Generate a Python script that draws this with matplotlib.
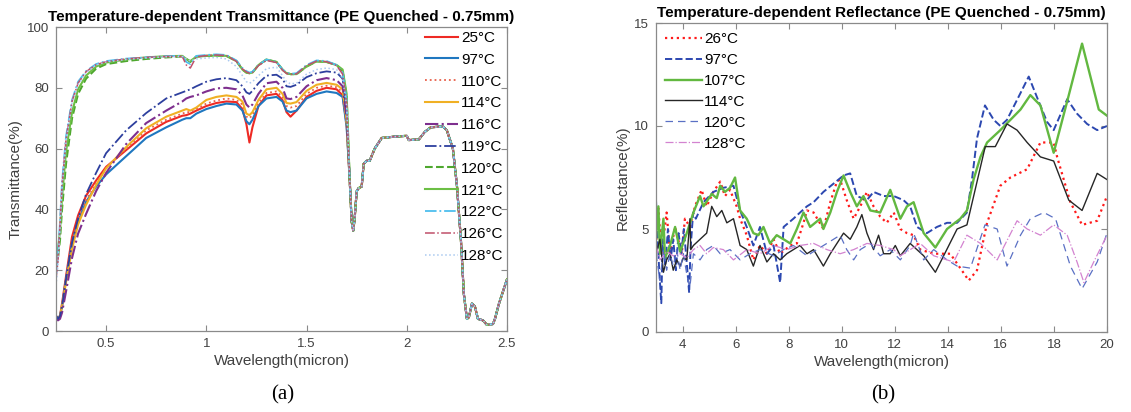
import numpy as np
import matplotlib
matplotlib.use("Agg")
import matplotlib.pyplot as plt

plt.rcParams['font.family'] = ['Liberation Sans', 'DejaVu Sans']

# ---------------- (a) transmittance data ----------------
wl = [0.25, 0.26, 0.27, 0.28, 0.30, 0.33, 0.36, 0.40, 0.45, 0.50, 0.60, 0.70, 0.80,
      0.88, 0.90, 0.92, 0.95, 1.00, 1.05, 1.10, 1.15, 1.18, 1.20, 1.215, 1.23, 1.26,
      1.30, 1.35, 1.38, 1.40, 1.42, 1.45, 1.50, 1.55, 1.60, 1.65, 1.68, 1.70]

# shared part beyond the 1.7 micron edge
wl_tail = [1.715, 1.725, 1.733, 1.74, 1.75, 1.76, 1.775, 1.785, 1.80, 1.815, 1.84, 1.875,
           1.95, 2.00, 2.01, 2.06, 2.09, 2.12, 2.18, 2.20, 2.23, 2.25, 2.27, 2.285, 2.30,
           2.31, 2.325, 2.34, 2.355, 2.38, 2.40, 2.43, 2.44, 2.46, 2.48, 2.50]
T_tail = [50, 36, 33, 37, 46, 47, 47.5, 55, 56, 56, 60, 63.5,
          64, 64.2, 62.8, 63, 65.5, 67, 67.3, 66, 60, 48, 30, 12, 4,
          4.5, 9, 8, 4, 3.5, 2, 2.3, 4, 9, 13, 17]

T_25 = [5, 4, 5, 9, 18, 31, 38, 44.5, 49.5, 54, 59.5, 65, 68.8, 70.8, 71, 71.5, 72.5, 74, 75,
        75.5, 75.3, 73, 68, 62, 67, 74, 77.5, 78, 76, 72, 70.5, 72.5, 77, 79, 80, 79.5, 77.5, 68]
T_97 = [5, 4, 5, 8, 17, 29, 36, 42.5, 47.5, 51.5, 57.5, 63.5, 67, 69.5, 70, 70, 71.5, 73, 74,
        74.8, 74.5, 72.5, 69, 68, 69.5, 74, 76.5, 77, 75.5, 72.5, 72, 72.5, 76.5, 78, 78.8, 78.3, 77, 67]
T_110 = [4.5, 4, 5, 8, 17, 29, 36.5, 43, 48.5, 53.5, 60, 66, 69.5, 71.5, 72, 72, 73, 74.8, 75.8,
         76.5, 76, 74.5, 70.5, 70, 71, 75, 78.3, 78.8, 77, 74, 73.5, 74, 78, 80, 80.7, 80.2, 78.5, 68]
T_114 = [4.5, 4, 5, 8, 16, 27, 35, 41.5, 48, 53.5, 60.5, 66.7, 70.5, 72.5, 73, 72.5, 73.5, 76, 77,
         77.5, 77, 75.5, 71.5, 71, 72, 76, 79.5, 80, 78, 75, 74.8, 75.3, 79, 81, 81.6, 81, 79.5, 69]
T_116 = [4, 3.5, 4, 6, 13, 24, 32, 38.5, 46, 52, 61.5, 68.4, 72.5, 75.5, 76.5, 77, 77.5, 78.8, 79.8,
         80, 79.5, 77.5, 74.5, 73.5, 74.5, 78, 81.5, 82, 80, 76.5, 76.3, 77, 80.5, 82.5, 83.2, 82.5, 80.5, 70]
T_119 = [5, 4, 5, 8, 17, 29, 37, 45, 52, 58.5, 66, 71.7, 76.5, 78.5, 79, 79.5, 80.5, 82, 82.8,
         83.2, 82.5, 80.5, 78.5, 78, 79, 81.5, 84, 84.3, 83, 80.5, 80.3, 81, 83.5, 84.8, 85.4, 85, 83, 72]
T_120 = [21, 24, 30, 40, 55, 70, 78, 83, 86.3, 87.8, 88.8, 89.5, 90, 90.3, 89.5, 88.5, 90.3, 90.5, 90.6,
         90.5, 88.8, 86, 85, 84.8, 85, 87.5, 89.3, 88.5, 86, 84.8, 84.5, 84.5, 87, 88.7, 88.5, 87.5, 85.5, 77]
T_121 = [24, 27, 33, 44, 59, 72, 79.5, 84, 87, 88.3, 89.3, 90, 90.4, 90.5, 89.5, 88.8, 90.2, 90.5, 90.6,
         90.5, 88.8, 86, 85, 84.8, 85, 87.5, 89.3, 88.5, 86, 84.8, 84.5, 84.5, 87, 88.7, 88.5, 87.5, 86, 78]
T_122 = [19, 25, 36, 49, 64, 76, 82, 85.5, 87.8, 88.8, 89.6, 90, 90.4, 90.5, 88.5, 87.8, 90.5, 90.8, 91,
         90.8, 89, 86.5, 85.5, 85, 85.3, 87.5, 89.3, 88.5, 86, 85, 84.6, 84.8, 87.5, 89, 88.8, 87.5, 85, 76]
T_126 = [17, 23, 35, 48, 63, 75.5, 81.5, 85.3, 87.6, 88.6, 89.5, 90, 90.3, 90.3, 87.5, 86.5, 90.2, 90.6, 90.8,
         90.6, 88.7, 86.2, 85.2, 84.8, 85, 87.3, 89, 88.3, 85.8, 84.7, 84.4, 84.6, 87.3, 88.8, 88.6, 87.3, 84.5, 75]
T_128 = [15, 22, 34, 47, 62, 75, 81, 85, 87.5, 88.5, 89.3, 89.8, 90.2, 90.3, 89.5, 88.8, 89.5, 89.8, 90,
         89.5, 87, 84, 82, 81.5, 82, 84, 86.3, 86.8, 84, 82, 81.3, 81.5, 84.5, 86, 86.5, 86, 83, 74]

trans_labels = ['25°C', '97°C', '110°C', '114°C', '116°C', '119°C',
                '120°C', '121°C', '122°C', '126°C', '128°C']
trans_series = [T_25, T_97, T_110, T_114, T_116, T_119, T_120, T_121, T_122, T_126, T_128]
trans_styles = [('#ee2a24', '-', 1.5), ('#1f77c0', '-', 1.5), ('#e8604a', ':', 1.3),
                ('#f0b024', '-', 1.5), ('#7e2f8e', '-.', 1.5), ('#2d3f9e', '-.', 1.3),
                ('#4ea72e', '--', 1.5), ('#6cbf45', '-', 1.5), ('#4dbeee', '-.', 1.3),
                ('#c0506a', '-.', 1.1), ('#a9c9f0', ':', 1.1)]

# ---------------- (b) reflectance data ----------------
x_26 = [3.0, 3.09, 3.21, 3.40, 3.53, 3.72, 3.97, 4.09, 4.28, 4.47, 4.72, 4.91, 5.16, 5.42, 5.60, 5.79,
        6.04, 6.17, 6.42, 6.67, 6.92, 7.18, 7.43, 7.68, 8.06, 8.31, 8.56, 8.69, 8.94, 9.31, 9.57, 9.82,
        9.94, 10.19, 10.45, 10.70, 10.95, 11.20, 11.45, 11.70, 11.96, 12.21, 12.46, 12.71, 12.96, 13.21,
        13.47, 13.72, 14.09, 14.47, 14.79, 15.10, 15.48, 15.98, 16.36, 16.99, 17.49, 17.99, 18.12,
        18.62, 19.06, 19.63, 20.0]
R_26 = [4.2, 6.0, 3.8, 5.8, 3.8, 5.1, 3.8, 5.5, 5.1, 6.1, 6.9, 6.1, 6.8, 7.3, 6.6, 6.9,
        6.1, 5.5, 4.7, 3.5, 4.2, 3.8, 4.5, 3.8, 4.2, 4.3, 5.3, 5.9, 5.8, 5.0, 6.3, 7.3,
        7.4, 6.4, 5.5, 6.1, 6.8, 6.1, 5.6, 5.3, 5.8, 5.0, 4.8, 4.7, 4.0, 3.9,
        3.8, 3.8, 3.8, 3.1, 2.5, 3.0, 5.3, 7.1, 7.5, 7.9, 9.2, 9.2, 8.5,
        6.3, 5.2, 5.4, 6.6]

x_97 = [3.0, 3.05, 3.12, 3.2, 3.25, 3.35, 3.45, 3.55, 3.65, 3.75, 3.85, 3.95, 4.05, 4.15, 4.25, 4.3,
        4.4, 4.5, 4.79, 5.16, 5.54, 5.92, 6.17, 6.42, 6.67, 6.92, 7.18, 7.43, 7.68, 7.81, 8.18, 8.43,
        8.69, 8.94, 9.31, 9.69, 10.07, 10.32, 10.57, 10.95, 11.20, 11.58, 11.96, 12.33, 12.58, 12.84,
        13.21, 13.59, 13.97, 14.35, 14.72, 14.91, 15.10, 15.40, 15.73, 15.98, 16.23, 16.74, 17.05,
        17.36, 17.74, 17.99, 18.50, 18.87, 19.25, 19.63, 20.0]
R_97 = [6.4, 5.0, 3.0, 1.4, 4.5, 3.2, 5.0, 3.5, 4.5, 3.0, 4.8, 3.8, 5.0, 3.5, 1.9, 4.0,
        5.8, 5.5, 6.3, 6.8, 7.0, 7.1, 5.9, 5.1, 4.2, 5.1, 3.8, 4.2, 2.4, 5.1, 5.5, 5.8,
        6.1, 6.3, 6.8, 7.2, 7.6, 7.7, 6.6, 6.4, 6.8, 6.6, 6.6, 6.4, 6.1, 5.1,
        4.8, 5.1, 5.3, 5.3, 5.8, 7.4, 9.4, 11.0, 10.3, 10.0, 10.3, 11.6, 12.4,
        11.4, 10.2, 9.8, 11.3, 10.6, 10.1, 9.8, 10.0]

x_107 = [3.0, 3.09, 3.15, 3.28, 3.34, 3.53, 3.72, 3.91, 4.16, 4.41, 4.66, 4.79, 5.10, 5.29, 5.42, 5.60,
         5.79, 5.98, 6.17, 6.42, 6.67, 6.86, 7.05, 7.30, 7.55, 7.81, 8.06, 8.31, 8.56, 8.81, 9.19, 9.31,
         9.57, 9.82, 10.07, 10.32, 10.57, 10.82, 11.08, 11.45, 11.83, 12.21, 12.46, 12.71, 13.09, 13.53,
         13.97, 14.47, 14.72, 14.97, 15.23, 15.48, 15.98, 16.36, 16.74, 17.11, 17.49, 17.99, 18.50,
         19.06, 19.69, 20.0]
R_107 = [4.5, 6.1, 3.8, 5.5, 3.6, 4.2, 5.1, 3.9, 4.8, 5.8, 6.6, 6.1, 6.7, 6.5, 7.1, 6.8,
         7.0, 7.5, 5.9, 5.5, 4.8, 4.7, 5.1, 4.3, 4.7, 4.5, 4.3, 5.0, 5.8, 5.1, 5.5, 5.0,
         5.8, 6.8, 7.6, 6.8, 6.1, 6.6, 5.9, 5.8, 6.9, 5.5, 6.1, 6.3, 4.8, 4.1,
         5.0, 5.5, 5.9, 7.4, 8.5, 9.2, 9.8, 10.3, 10.8, 11.5, 11.0, 8.7, 11.2,
         14.0, 10.8, 10.5]

x_114 = [3.0, 3.15, 3.28, 3.40, 3.53, 3.65, 3.78, 3.91, 4.03, 4.16, 4.28, 4.31, 4.41, 4.66, 4.91, 5.10,
         5.29, 5.48, 5.67, 5.92, 6.17, 6.42, 6.67, 6.92, 7.18, 7.43, 7.68, 7.93, 8.18, 8.43, 8.69, 8.94,
         9.31, 9.57, 9.82, 10.07, 10.32, 10.57, 10.76, 10.95, 11.20, 11.39, 11.58, 11.83, 12.02, 12.21,
         12.58, 13.09, 13.53, 14.35, 14.72, 15.41, 15.79, 16.23, 16.61, 16.99, 17.49, 17.99, 18.56,
         19.06, 19.63, 20.0]
R_114 = [3.8, 4.5, 2.9, 3.5, 3.8, 3.0, 3.5, 3.2, 3.6, 3.5, 5.5, 4.0, 4.2, 4.5, 4.8, 6.1,
         5.6, 5.9, 5.3, 5.5, 4.2, 4.0, 3.2, 4.2, 3.4, 3.8, 3.5, 3.8, 4.0, 4.2, 3.8, 4.0,
         3.2, 3.8, 4.3, 4.8, 4.5, 5.1, 5.7, 4.8, 4.0, 4.7, 3.8, 3.8, 4.2, 3.7,
         4.3, 3.7, 2.9, 5.0, 5.2, 9.0, 9.0, 10.1, 9.8, 9.2, 8.5, 8.3, 6.4,
         5.9, 7.7, 7.4]

x_120 = [3.0, 3.15, 3.28, 3.40, 3.53, 3.65, 3.78, 3.91, 4.03, 4.16, 4.28, 4.41, 4.66, 4.91, 5.16, 5.42,
         5.79, 6.17, 6.54, 6.92, 7.43, 7.81, 8.18, 8.69, 9.06, 9.44, 9.94, 10.19, 10.45, 10.70, 11.08,
         11.45, 11.83, 12.21, 12.58, 12.71, 13.09, 13.47, 13.97, 14.35, 14.85, 15.40, 15.86, 16.23,
         16.74, 17.11, 17.62, 18.06, 18.62, 19.06, 19.63, 20.0]
R_120 = [3.8, 2.5, 4.0, 3.0, 3.8, 3.2, 4.0, 3.0, 3.8, 2.8, 2.2, 3.8, 3.5, 4.0, 4.2, 3.8,
         4.0, 3.5, 3.8, 4.0, 3.7, 4.0, 4.2, 3.7, 4.0, 4.3, 4.7, 4.0, 3.5, 4.0, 4.3,
         3.7, 4.0, 3.5, 4.2, 4.8, 3.5, 4.0, 3.5, 3.2, 3.1, 5.2, 5.0, 3.2,
         4.7, 5.5, 5.8, 5.5, 3.2, 2.1, 3.4, 4.8]

x_128 = [3.0, 3.15, 3.40, 3.65, 3.91, 4.16, 4.41, 4.66, 4.91, 5.16, 5.54, 5.92, 6.42, 6.92, 7.43, 7.93,
         8.43, 8.94, 9.44, 9.94, 10.45, 10.95, 11.45, 11.96, 12.21, 12.96, 13.47, 14.22, 14.72, 15.23,
         15.86, 16.61, 16.99, 17.49, 17.99, 18.50, 18.87, 19.13, 19.50, 20.0]
R_128 = [4.2, 3.5, 3.9, 3.7, 3.8, 3.6, 4.0, 4.2, 3.8, 4.1, 4.0, 3.5, 4.0, 3.8, 4.2, 4.0,
         4.2, 4.3, 4.0, 3.8, 4.0, 4.3, 4.2, 4.0, 3.7, 4.3, 3.7, 3.4, 4.7, 4.3,
         3.5, 5.4, 5.0, 4.7, 5.2, 4.7, 3.4, 2.4, 3.4, 4.7]

refl_labels = ['26°C', '97°C', '107°C', '114°C', '120°C', '128°C']
refl_x = [x_26, x_97, x_107, x_114, x_120, x_128]
refl_y = [R_26, R_97, R_107, R_114, R_120, R_128]
refl_styles = [('#ff1a1a', ':', 1.6), ('#2c48b0', '--', 1.4), ('#62b840', '-', 1.7),
               ('#262626', '-', 1.0), ('#5a70c4', (0, (6, 4)), 0.9), ('#d383d0', '-.', 0.9)]


def style_axes(ax):
    for s in ax.spines.values():
        s.set_color('#8a8a8a')
        s.set_linewidth(0.9)
    ax.tick_params(direction='in', top=True, right=True, length=4, width=0.8,
                   color='#8a8a8a', labelcolor='#404040', labelsize=9.5, pad=5)


fig = plt.figure(figsize=(11.31, 4.12), dpi=100)

# ---- left panel
ax1 = fig.add_axes([56 / 1131, 1 - 331 / 412, 451 / 1131, 304 / 412])
for vals, lab, (c, ls, lw) in zip(trans_series, trans_labels, trans_styles):
    ax1.plot(wl + wl_tail, vals + T_tail, color=c, ls=ls, lw=lw, label=lab)
ax1.set_xlim(0.25, 2.5)
ax1.set_ylim(0, 100)
ax1.set_xticks([0.5, 1, 1.5, 2, 2.5])
ax1.set_xticklabels(['0.5', '1', '1.5', '2', '2.5'])
ax1.set_yticks(range(0, 101, 20))
style_axes(ax1)
ax1.set_xlabel('Wavelength(micron)', fontsize=11, color='#404040', labelpad=3)
ax1.set_ylabel('Transmittance(%)', fontsize=11, color='#404040', labelpad=3)
ax1.set_title('Temperature-dependent Transmittance (PE Quenched - 0.75mm)',
              fontsize=11, fontweight='bold', pad=4)
ax1.legend(loc='upper right', bbox_to_anchor=(1.01, 1.012), frameon=False, fontsize=11,
           labelspacing=0.51, handlelength=2.2, handletextpad=0.2, borderaxespad=0.1)

# ---- right panel
ax2 = fig.add_axes([656 / 1131, 1 - 332 / 412, 451 / 1131, 309 / 412])
for xs, ys, lab, (c, ls, lw) in zip(refl_x, refl_y, refl_labels, refl_styles):
    ax2.plot(xs, ys, color=c, ls=ls, lw=lw, label=lab)
ax2.set_xlim(3, 20)
ax2.set_ylim(0, 15)
ax2.set_xticks(range(4, 21, 2))
ax2.set_yticks([0, 5, 10, 15])
style_axes(ax2)
ax2.set_xlabel('Wavelength(micron)', fontsize=11, color='#404040', labelpad=3)
ax2.set_ylabel('Reflectance(%)', fontsize=11, color='#404040', labelpad=3)
ax2.set_title('Temperature-dependent Reflectance (PE Quenched - 0.75mm)',
              fontsize=11, fontweight='bold', pad=4)
ax2.legend(loc='upper left', bbox_to_anchor=(0.0, 1.0), frameon=False, fontsize=11,
           labelspacing=0.45, handlelength=2.4, handletextpad=0.15, borderaxespad=0.2)

fig.text(283 / 1131, 1 - 395 / 412, '(a)', ha='center', va='center', fontsize=15,
         family='Liberation Serif')
fig.text(883 / 1131, 1 - 395 / 412, '(b)', ha='center', va='center', fontsize=15,
         family='Liberation Serif')

fig.savefig('out.png', dpi=100)
